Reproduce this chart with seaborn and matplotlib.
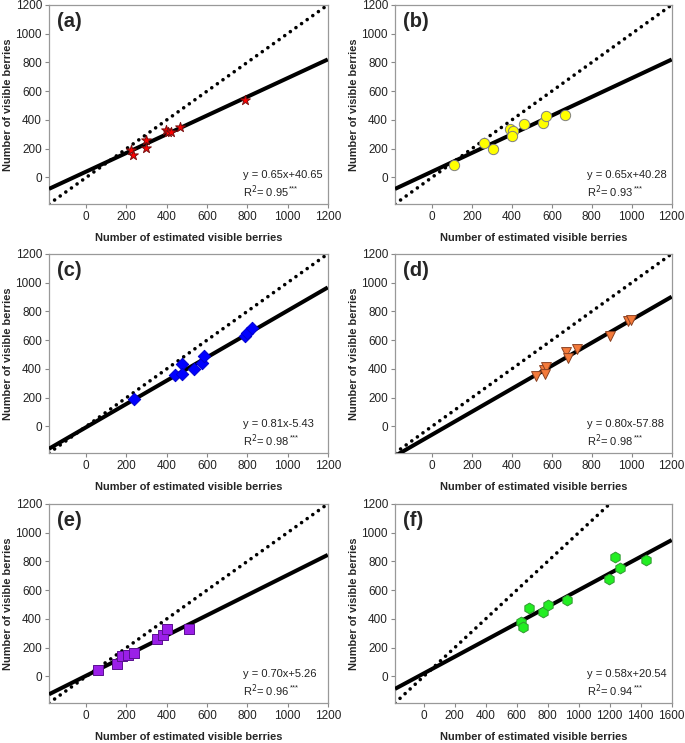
import numpy as np
import pandas as pd
import matplotlib
matplotlib.use("Agg")
import matplotlib.pyplot as plt
import seaborn as sns

# ---- data ----
a_x = [223, 231, 299, 299, 398, 408, 420, 468, 787]
a_y = [188, 153, 262, 204, 330, 315, 315, 348, 540]

b_x = [109, 259, 304, 393, 407, 400, 459, 555, 570, 667]
b_y = [88, 240, 198, 337, 326, 286, 372, 379, 430, 437]

c_x = [238, 440, 474, 474, 536, 577, 587, 787, 800, 826]
c_y = [191, 356, 437, 367, 402, 444, 488, 630, 653, 686]

d_x = [521, 560, 570, 566, 672, 680, 726, 891, 982, 995]
d_y = [349, 391, 413, 363, 519, 479, 535, 628, 730, 740]

e_x = [58, 154, 180, 208, 238, 354, 382, 403, 509]
e_y = [47, 86, 140, 147, 165, 260, 291, 328, 328]

f_x = [630, 639, 682, 768, 802, 923, 1194, 1237, 1269, 1434]
f_y = [379, 344, 477, 447, 495, 530, 679, 833, 756, 812]

labels = ["(a)", "(b)", "(c)", "(d)", "(e)", "(f)"]
slopes = [0.65, 0.65, 0.81, 0.80, 0.70, 0.58]
intercepts = [40.65, 40.28, -5.43, -57.88, 5.26, 20.54]
eq_texts = ["y = 0.65x+40.65", "y = 0.65x+40.28", "y = 0.81x-5.43",
            "y = 0.80x-57.88", "y = 0.70x+5.26", "y = 0.58x+20.54"]
r2_texts = ["0.95", "0.93", "0.98", "0.98", "0.96", "0.94"]
x_max = [1200, 1200, 1200, 1200, 1200, 1600]
x_ticks = [[0, 200, 400, 600, 800, 1000, 1200]] * 5 + [[0, 200, 400, 600, 800, 1000, 1200, 1400, 1600]]
y_ticks = [0, 200, 400, 600, 800, 1000, 1200]

xs = [a_x, b_x, c_x, d_x, e_x, f_x]
ys = [a_y, b_y, c_y, d_y, e_y, f_y]

# ---- styles ----
markers = ["*", "o", "D", "v", "s", "h"]
faces = ["#FF0000", "#FFFF00", "#0000FF", "#F47A3A", "#9B1FE8", "#22EE22"]
edges = ["#7A1010", "#808080", "#0000CC", "#8A4020", "#5A1090", "#339933"]
msizes = [55, 55, 40, 50, 45, 60]

sns.set_theme(style="white")
plt.rcParams['font.family'] = ['Liberation Sans', 'DejaVu Sans']

fig = plt.figure(figsize=(6.85, 7.43), dpi=100)
lefts = [0.0715, 0.5766]
widths = [0.407, 0.404]
bottoms = [0.7254, 0.3903, 0.0538]
h = 0.268

r2_artists = []
for i in range(6):
    r, c = divmod(i, 2)
    ax = fig.add_axes([lefts[c], bottoms[r], widths[c], h])
    lo = -185
    hi = x_max[i]
    ax.set_xlim(lo, hi)
    ax.set_ylim(-185, 1200)

    # 1:1 line (dotted)
    xx = np.array([lo, 1200.0])
    ax.plot(xx, xx, color="black", linestyle=(0, (0.01, 1.9)), linewidth=2.6,
            dash_capstyle="round", zorder=2)
    # regression line
    xr = np.array([lo, hi], dtype=float)
    ax.plot(xr, slopes[i] * xr + intercepts[i], color="black", linewidth=2.9,
            solid_capstyle="butt", zorder=3)

    df = pd.DataFrame({"x": xs[i], "y": ys[i]})
    sns.scatterplot(data=df, x="x", y="y", ax=ax, marker=markers[i], s=msizes[i],
                    color=faces[i], edgecolor=edges[i], linewidth=0.7, zorder=4)

    ax.set_xticks(x_ticks[i])
    ax.set_yticks(y_ticks)
    ax.tick_params(axis="both", which="major", direction="out", length=3, width=0.8,
                   color="#888888", labelsize=8.5, pad=2, bottom=True, left=True,
                   labelcolor="#222222")
    for s in ax.spines.values():
        s.set_color("#999999")
        s.set_linewidth(0.9)
    ax.set_xlabel("Number of estimated visible berries", fontsize=7.9,
                  fontweight="bold", labelpad=7)
    ax.set_ylabel("Number of visible berries", fontsize=7.9,
                  fontweight="bold", labelpad=2)
    ax.text(0.03, 0.965, labels[i], transform=ax.transAxes, fontsize=14.5,
            fontweight="bold", va="top", ha="left")
    ax.text(0.695, 0.145, eq_texts[i], transform=ax.transAxes, fontsize=8,
            ha="left", va="center", color="#222222")
    t = ax.text(0.695, 0.06, "R$^{2}$= " + r2_texts[i], transform=ax.transAxes,
                fontsize=8, ha="left", va="center", color="#222222")
    r2_artists.append((ax, t))

# small superscript asterisks after R^2 text
fig.canvas.draw()
renderer = fig.canvas.get_renderer()
for ax, t in r2_artists:
    bb = t.get_window_extent(renderer=renderer)
    x_fig, y_fig = fig.transFigure.inverted().transform((bb.x1 + 0.5, bb.y1 - 2))
    fig.text(x_fig, y_fig, "***", fontsize=5.5, ha="left", va="top", color="#222222")

fig.savefig("out.png", dpi=100)
